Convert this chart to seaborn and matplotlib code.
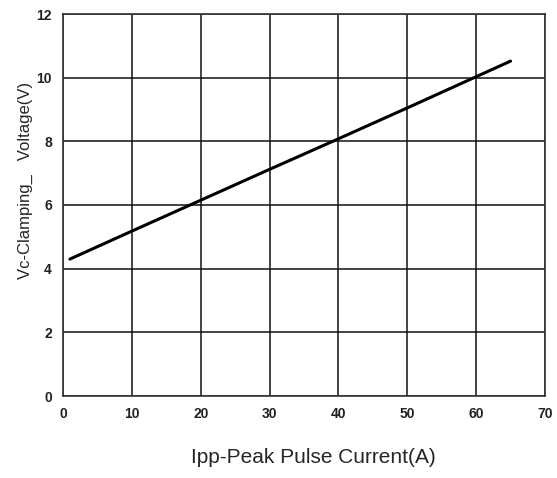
import pandas as pd
import matplotlib
matplotlib.use('Agg')
import matplotlib.pyplot as plt
import seaborn as sns

# data
ipp = [1, 10, 20, 30, 40, 50, 60, 65]
vc = [4.30, 5.18, 6.15, 7.12, 8.08, 9.05, 10.03, 10.52]

x_ticks = [0, 10, 20, 30, 40, 50, 60, 70]
y_ticks = [0, 2, 4, 6, 8, 10, 12]

df = pd.DataFrame({'Ipp': ipp, 'Vc': vc})

sns.set_style('white')
plt.rcParams['font.family'] = ['Liberation Sans', 'DejaVu Sans']

fig = plt.figure(figsize=(5.57, 4.78), dpi=100)
ax = fig.add_axes([63 / 557, 1 - 396 / 478, 482 / 557, 382 / 478])

sns.lineplot(data=df, x='Ipp', y='Vc', color='black', linewidth=2.2, ax=ax)

ax.set_xlim(0, 70)
ax.set_ylim(0, 12)
ax.set_xticks(x_ticks)
ax.set_yticks(y_ticks)
ax.tick_params(length=0, pad=8, labelsize=10)
for lab in ax.get_xticklabels() + ax.get_yticklabels():
    lab.set_fontweight('bold')
    lab.set_color('#222222')

ax.grid(True, color='#111111', linewidth=1.1)
for s in ax.spines.values():
    s.set_color('#333333')
    s.set_linewidth(1.2)

ax.set_xlabel('Ipp-Peak Pulse Current(A)', fontsize=15)
ax.xaxis.set_label_coords(0.52, -0.135)
ax.set_ylabel('Vc-Clamping_   Voltage(V)', fontsize=12)
ax.yaxis.set_label_coords(-0.062, 0.565)

plt.savefig('out.png', dpi=100)
